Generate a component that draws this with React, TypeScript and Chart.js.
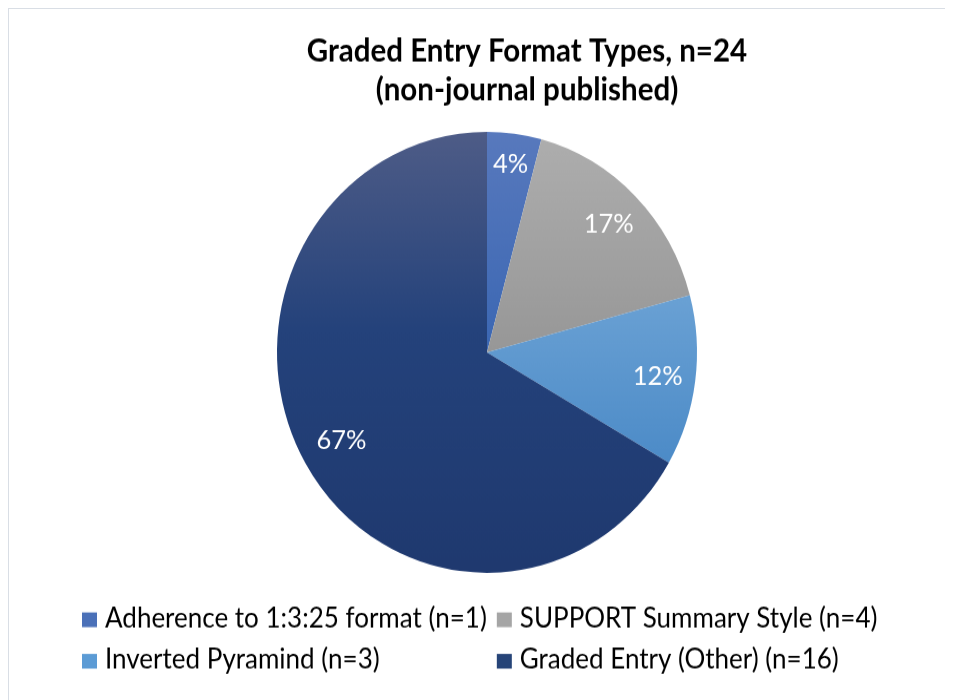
import React, { useEffect, useRef } from "react";
import { Chart, registerables } from "chart.js";

Chart.register(...registerables);

const titleLines = ["Graded Entry Format Types, n=24", "(non-journal published)"];
const categories = [
  "Adherence to 1:3:25 format (n=1)",
  "SUPPORT Summary Style (n=4)",
  "Inverted Pyramind (n=3)",
  "Graded Entry (Other) (n=16)",
];
const counts = [1, 4, 3, 16];

// gradient stops per slice: [fraction of pie height, color]
const sliceGradients: [number, string][][] = [
  [[0, "#5879bd"], [0.5, "#3b67b3"]],
  [[0.02, "#adadad"], [0.5, "#979797"]],
  [[0.37, "#6aa1d4"], [0.85, "#4485c4"]],
  [[0, "#4e5c87"], [0.45, "#24427b"], [1, "#1f396f"]],
];
const legendColors = ["#4a70b8", "#a5a5a5", "#5b9bd5", "#264478"];
const labelRadius = [0.86, 0.82, 0.82, 0.8];
const FONT = "Lato, 'Open Sans', sans-serif";

// the reference is slightly stretched vertically
const CANVAS_W = 944;
const CANVAS_H = 658;
const CSS_H = 691;

function roundHalfEven(p: number) {
  const f = Math.floor(p);
  if (Math.abs(p - f - 0.5) < 1e-9) return f % 2 === 0 ? f : f + 1;
  return Math.round(p);
}

const drawPlugin = {
  id: "customDraw",
  afterDatasetsDraw(chart: any) {
    const ctx = chart.ctx;
    const meta = chart.getDatasetMeta(0);
    const data = chart.data.datasets[0].data as number[];
    const total = data.reduce((a, b) => a + b, 0);
    ctx.save();
    ctx.fillStyle = "#ffffff";
    ctx.font = `25.5px ${FONT}`;
    ctx.textAlign = "center";
    ctx.textBaseline = "middle";
    meta.data.forEach((arc: any, i: number) => {
      const p = arc.getProps(["x", "y", "startAngle", "endAngle", "outerRadius"], true);
      const mid = (p.startAngle + p.endAngle) / 2;
      const r = p.outerRadius * labelRadius[i];
      const x = p.x + Math.cos(mid) * r;
      const y = p.y + Math.sin(mid) * r;
      ctx.fillText(roundHalfEven((data[i] / total) * 100) + "%", x, y);
    });
    ctx.restore();
  },
  afterDraw(chart: any) {
    const ctx = chart.ctx;
    ctx.save();
    // title
    ctx.fillStyle = "#000000";
    ctx.font = `bold 29.5px ${FONT}`;
    ctx.textAlign = "center";
    ctx.textBaseline = "alphabetic";
    const tx = 518;
    ctx.fillText(titleLines[0], tx, 50.2);
    ctx.fillText(titleLines[1], tx, 86.7);
    // legend (2 x 2 grid)
    ctx.font = `26px ${FONT}`;
    ctx.textAlign = "left";
    const labels = chart.data.labels as string[];
    const boxW = 15;
    const boxH = 14;
    const gap = 8;
    const col1 = 73;
    const w0 = Math.max(ctx.measureText(labels[0]).width, ctx.measureText(labels[2]).width);
    const col2 = col1 + boxW + gap + w0 + 10;
    const rows = [588.6, 628.1];
    labels.forEach((lab, i) => {
      const x = i % 2 === 0 ? col1 : col2;
      const y = rows[Math.floor(i / 2)];
      ctx.fillStyle = legendColors[i];
      ctx.fillRect(x, y - boxH, boxW, boxH);
      ctx.fillStyle = "#000000";
      ctx.fillText(lab, x + boxW + gap, y);
    });
    ctx.restore();
  },
};

export default function App() {
  const ref = useRef<HTMLCanvasElement>(null);
  useEffect(() => {
    if (!ref.current) return;
    const chart = new Chart(ref.current, {
      type: "pie",
      data: {
        labels: categories,
        datasets: [
          {
            data: counts,
            borderWidth: 0,
            backgroundColor: (c: any) => {
              const ch = c.chart;
              const area = ch.chartArea;
              if (!area) return legendColors[c.dataIndex];
              const g = ch.ctx.createLinearGradient(0, area.top, 0, area.bottom);
              sliceGradients[c.dataIndex].forEach(([s, col]) => g.addColorStop(s, col));
              return g;
            },
          },
        ],
      },
      options: {
        responsive: false,
        animation: false,
        devicePixelRatio: 1,
        layout: { padding: { top: 116.9, bottom: 121.1, left: 12, right: 0 } },
        plugins: {
          legend: { display: false },
          title: { display: false },
          tooltip: { enabled: false },
        },
      },
      plugins: [drawPlugin],
    });
    // keep the vertical stretch of the reference
    ref.current.style.width = CANVAS_W + "px";
    ref.current.style.height = CSS_H + "px";
    return () => chart.destroy();
  }, []);
  return (
    <div
      style={{
        width: 945,
        height: 692,
        borderTop: "1px solid #d9dee5",
        borderLeft: "1px solid #d9dee5",
        boxSizing: "border-box",
        background: "#ffffff",
      }}
    >
      <canvas
        ref={ref}
        width={CANVAS_W}
        height={CANVAS_H}
        style={{ display: "block", width: CANVAS_W, height: CSS_H }}
      />
    </div>
  );
}
